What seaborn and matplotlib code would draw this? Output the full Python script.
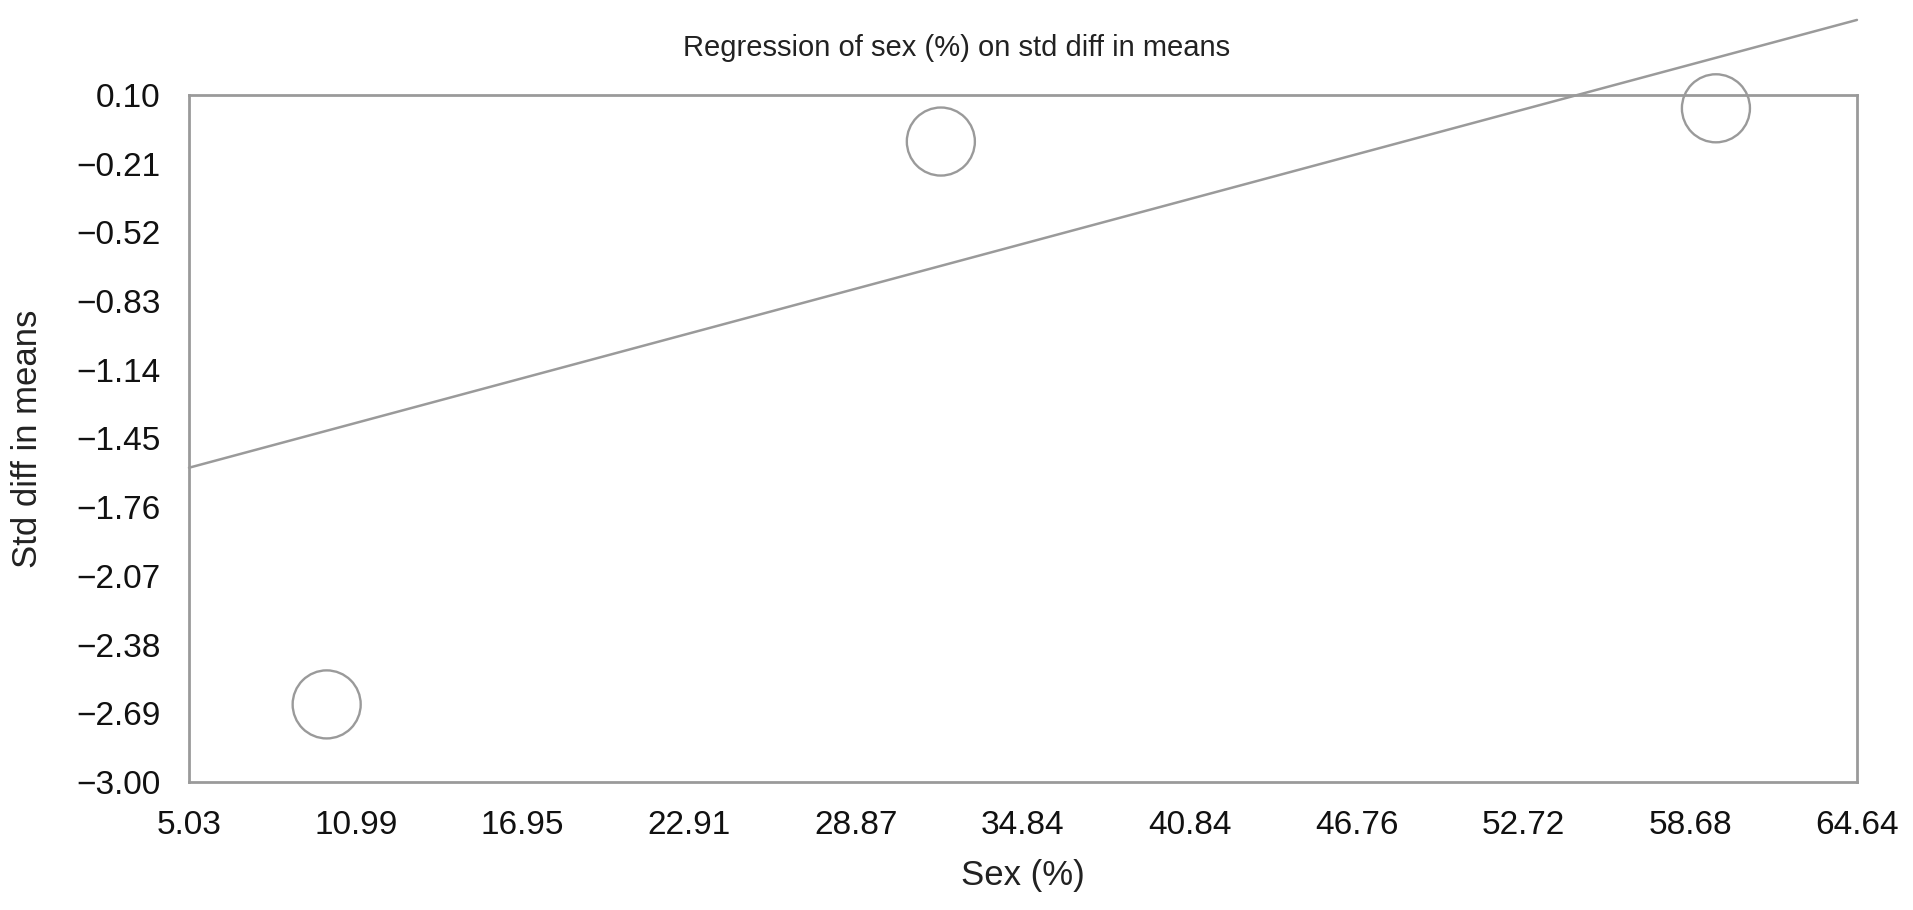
import numpy as np
import pandas as pd
import seaborn as sns
from matplotlib import pyplot as plt

# data
sex_pct = [9.95, 31.9, 59.6]
std_diff = [-2.65, -0.11, 0.04]
reg_intercept = -1.7525
reg_slope = 0.0339

x_ticks = ['5.03', '10.99', '16.95', '22.91', '28.87', '34.84',
           '40.84', '46.76', '52.72', '58.68', '64.64']
y_ticks = ['0.10', '−0.21', '−0.52', '−0.83', '−1.14', '−1.45',
           '−1.76', '−2.07', '−2.38', '−2.69', '−3.00']

x_min, x_max = 5.03, 64.64
y_min, y_max = -3.00, 0.10

if __name__ == '__main__':
    sns.set_theme(style='white')
    plt.rcParams['font.family'] = ['Liberation Sans', 'DejaVu Sans']

    grey = '#9a9a9a'
    df = pd.DataFrame({'sex': sex_pct, 'sdm': std_diff})

    fig = plt.figure(figsize=(19.13, 9.10), dpi=100)
    ax = fig.add_axes([0.0988, 0.1407, 0.8719, 0.7549])

    sns.scatterplot(data=df, x='sex', y='sdm', ax=ax, s=2400, marker='o',
                    facecolors='none', edgecolors=grey, linewidth=1.7,
                    zorder=3, clip_on=False)

    # regression line, drawn over the whole x range (runs past the top)
    line_x = np.array([x_min, x_max])
    line_y = reg_intercept + reg_slope * line_x
    sns.lineplot(x=line_x, y=line_y, ax=ax, color=grey, linewidth=1.8,
                 clip_on=False)

    ax.set_xlim(x_min, x_max)
    ax.set_ylim(y_min, y_max)
    ax.set_xticks(np.linspace(x_min, x_max, len(x_ticks)))
    ax.set_xticklabels(x_ticks)
    ax.set_yticks(np.linspace(y_max, y_min, len(y_ticks)))
    ax.set_yticklabels(y_ticks)

    for sp in ax.spines.values():
        sp.set_color(grey)
        sp.set_linewidth(2.0)
    ax.tick_params(axis='both', direction='out', width=1.8, color=grey,
                   labelsize=24, labelcolor='#111111')
    ax.tick_params(axis='x', length=6, pad=14)
    ax.tick_params(axis='y', length=11, pad=9.5)

    ax.set_xlabel('Sex (%)', fontsize=25, color='#222222', labelpad=13)
    ax.set_ylabel('Std diff in means', fontsize=25, color='#222222',
                  labelpad=23)
    fig.suptitle('Regression of sex (%) on std diff in means', fontsize=21,
                 color='#222222', x=0.5, y=1 - 48 / 910, va='center')

    fig.savefig('out.png', dpi=100)
